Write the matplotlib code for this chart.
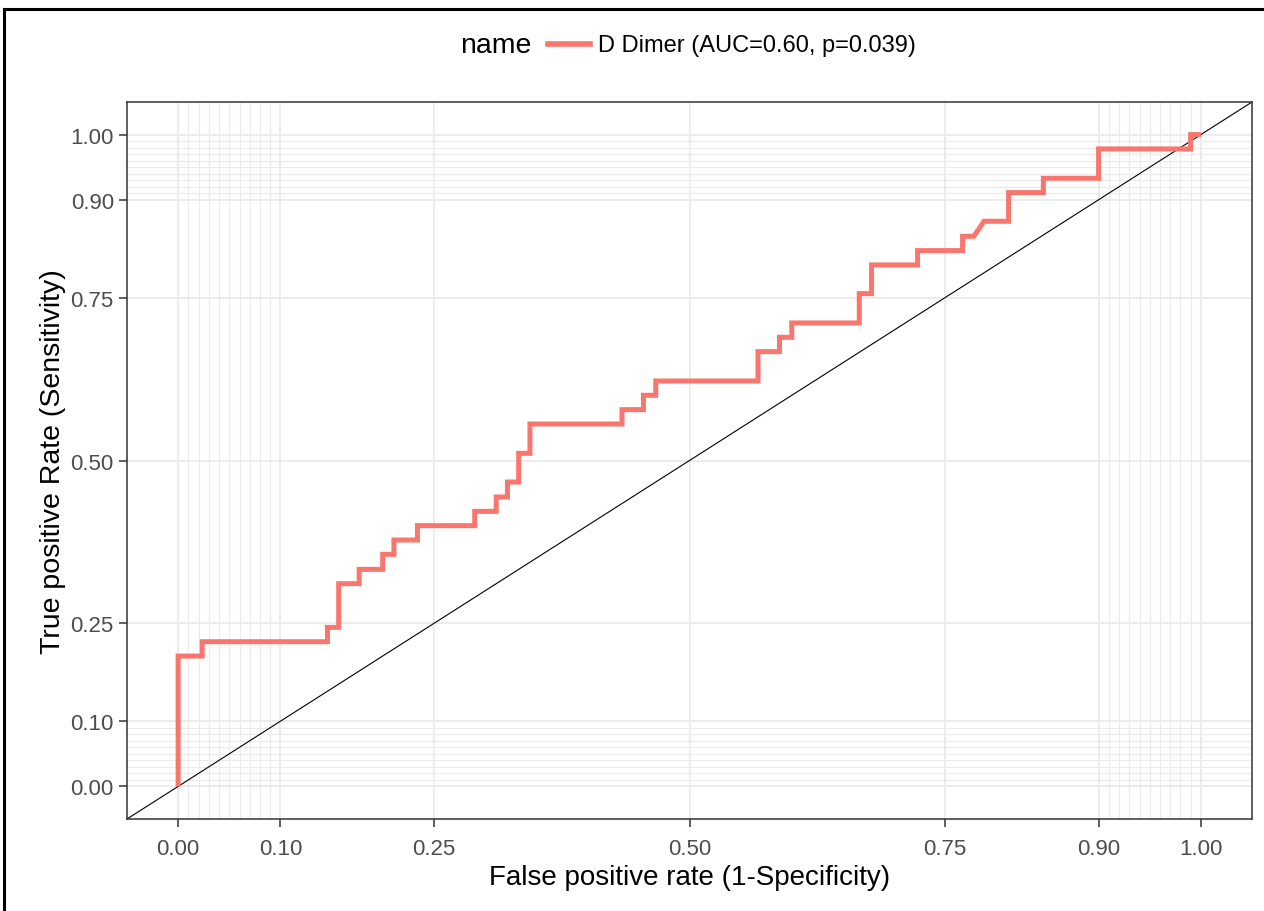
import numpy as np
import matplotlib.pyplot as plt
from matplotlib.lines import Line2D

plt.rcParams['font.family'] = ['Liberation Sans', 'DejaVu Sans']

# ROC curve vertices
fpr = [0.0, 0.0, 0.0235, 0.0235, 0.146, 0.146, 0.157, 0.157, 0.177, 0.177,
       0.200, 0.200, 0.211, 0.211, 0.234, 0.234, 0.290, 0.290, 0.311, 0.311,
       0.322, 0.322, 0.333, 0.333, 0.344, 0.344, 0.434, 0.434, 0.455, 0.455,
       0.467, 0.467, 0.567, 0.567, 0.588, 0.588, 0.600, 0.600, 0.666, 0.666,
       0.678, 0.678, 0.723, 0.723, 0.767, 0.767, 0.778, 0.788, 0.812, 0.812,
       0.846, 0.846, 0.900, 0.900, 0.990, 0.990, 1.0]
tpr = [0.0, 0.200, 0.200, 0.222, 0.222, 0.244, 0.244, 0.311, 0.311, 0.333,
       0.333, 0.356, 0.356, 0.378, 0.378, 0.400, 0.400, 0.422, 0.422, 0.444,
       0.444, 0.467, 0.467, 0.511, 0.511, 0.556, 0.556, 0.578, 0.578, 0.600,
       0.600, 0.622, 0.622, 0.667, 0.667, 0.689, 0.689, 0.711, 0.711, 0.756,
       0.756, 0.800, 0.800, 0.822, 0.822, 0.844, 0.844, 0.867, 0.867, 0.911,
       0.911, 0.933, 0.933, 0.978, 0.978, 1.0, 1.0]

series_label = "D Dimer (AUC=0.60, p=0.039)"
legend_title = "name"
major_breaks = [0, 0.1, 0.25, 0.5, 0.75, 0.9, 1.0]
minor_breaks = list(np.round(np.arange(0, 0.1, 0.01), 2)) + list(np.round(np.arange(0.91, 1.0, 0.01), 2))
tick_labels = ["0.00", "0.10", "0.25", "0.50", "0.75", "0.90", "1.00"]

W, H = 1264, 912
fig = plt.figure(figsize=(W / 100, H / 100), dpi=100)
ax = fig.add_axes([127 / W, 1 - 820 / H, (1252 - 127) / W, (820 - 103) / H])

lim = (-0.05, 1.05)
ax.set_xlim(lim)
ax.set_ylim(lim)

# grid
for b in minor_breaks:
    ax.axvline(b, color='#EBEBEB', lw=0.8, zorder=0)
    ax.axhline(b, color='#EBEBEB', lw=0.8, zorder=0)
for b in major_breaks:
    ax.axvline(b, color='#EBEBEB', lw=1.3, zorder=0)
    ax.axhline(b, color='#EBEBEB', lw=1.3, zorder=0)

ax.plot(lim, lim, color='black', lw=0.8, zorder=2)
ax.plot(fpr, tpr, color='#F8766D', lw=3.6, zorder=3,
        solid_joinstyle='miter', solid_capstyle='butt')

ax.set_xticks(major_breaks)
ax.set_xticklabels(tick_labels)
ax.set_yticks(major_breaks)
ax.set_yticklabels(tick_labels)
ax.tick_params(axis='both', direction='out', length=6, width=1.1, color='#333333',
               labelcolor='#4D4D4D', labelsize=16, pad=3.5)
ax.tick_params(axis='x', pad=7.5)
for sp in ax.spines.values():
    sp.set_color('#333333')
    sp.set_linewidth(1.1)

ax.set_xlabel("False positive rate (1-Specificity)", fontsize=20, color='black', labelpad=4)
ax.set_ylabel("True positive Rate (Sensitivity)", fontsize=20.5, color='black', labelpad=3)

# legend on top
fig.text(531 / W, 1 - 46 / H, legend_title, fontsize=20.5, ha='right', va='center')
fig.add_artist(Line2D([548 / W, 590 / W], [1 - 45 / H, 1 - 45 / H],
                      color='#F8766D', lw=4.0, transform=fig.transFigure))
fig.text(598 / W, 1 - 46 / H, series_label, fontsize=17, ha='left', va='center')

# outer frame
fig.add_artist(Line2D([4 / W, 1], [1 - 10 / H, 1 - 10 / H], color='black', lw=2.2,
                      transform=fig.transFigure))
fig.add_artist(Line2D([4 / W, 4 / W], [0, 1 - 10 / H], color='black', lw=2.2,
                      transform=fig.transFigure))

fig.savefig("out.png", dpi=100)
